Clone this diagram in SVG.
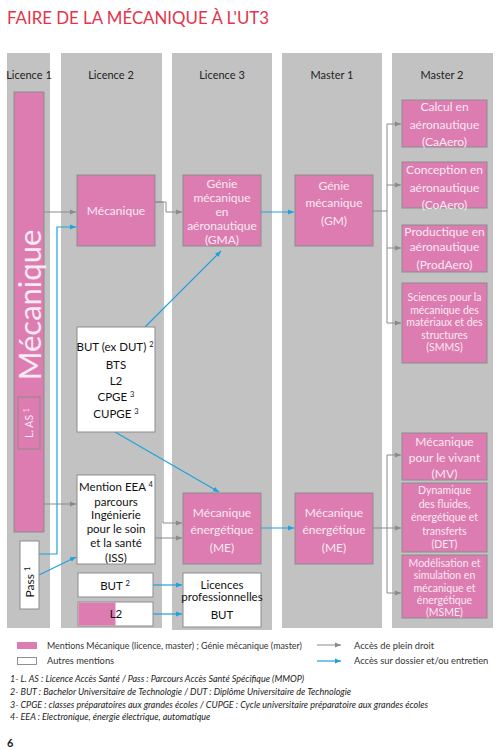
<svg xmlns="http://www.w3.org/2000/svg" width="500" height="750" viewBox="0 0 500 750">
<defs>
<style>
text{font-family:Lato,"Liberation Sans",sans-serif;}
.col{fill:#c2c2c2;}
.pk{fill:#dc7cb0;stroke:#8c8c8c;stroke-width:1;}
.wt{fill:#ffffff;stroke:#8c8c8c;stroke-width:1;}
.hd{font-size:11px;fill:#222;text-anchor:middle;}
.tw{font-size:12px;fill:#fbe9f3;text-anchor:middle;}
.ts{font-size:10.5px;fill:#fbe9f3;text-anchor:middle;}
.tb{font-size:11.5px;fill:#111;text-anchor:middle;}
.gl{fill:none;stroke:#8a8a8a;stroke-width:1;}
.bl{fill:none;stroke:#1ea2dc;stroke-width:1.2;}
.lg{font-size:9.3px;fill:#333;}
.fn{font-size:9px;fill:#222;font-style:italic;}
</style>
<marker id="ag" markerUnits="userSpaceOnUse" markerWidth="7" markerHeight="6" refX="6" refY="3" orient="auto"><path d="M0,0.5 L6,3 L0,5.5 Z" fill="#8a8a8a"/></marker>
<marker id="ab" markerUnits="userSpaceOnUse" markerWidth="7" markerHeight="6" refX="6" refY="3" orient="auto"><path d="M0,0.5 L6,3 L0,5.5 Z" fill="#1ea2dc"/></marker>
</defs>
<rect width="500" height="750" fill="#ffffff"/>
<text x="7" y="24" font-size="16.5" fill="#e3344a" textLength="262" lengthAdjust="spacingAndGlyphs">FAIRE DE LA MÉCANIQUE À L'UT3</text>

<g id="columns">
<rect class="col" x="7" y="53" width="43" height="575"/>
<rect class="col" x="61" y="53" width="101" height="575"/>
<rect class="col" x="172" y="53" width="100" height="577"/>
<rect class="col" x="282" y="53" width="100" height="575"/>
<rect class="col" x="392" y="53" width="101" height="575"/>
<text class="hd" x="29" y="79">Licence 1</text>
<text class="hd" x="111" y="79">Licence 2</text>
<text class="hd" x="222" y="79">Licence 3</text>
<text class="hd" x="332" y="79">Master 1</text>
<text class="hd" x="442" y="79">Master 2</text>
</g>

<g id="connectors">
<path class="gl" d="M44,212 H76" marker-end="url(#ag)"/>
<path class="gl" d="M44,504 H76" marker-end="url(#ag)"/>
<path class="gl" d="M155,202 H166 V212 H182" marker-end="url(#ag)"/>
<path class="gl" d="M155,202 H163 V523 H182" marker-end="url(#ag)"/>
<path class="gl" d="M155,538 H182" marker-end="url(#ag)"/>
<path class="gl" d="M373,211 H387 M387,124 V323"/>
<path class="gl" d="M387,124 H401" marker-end="url(#ag)"/>
<path class="gl" d="M387,185 H401" marker-end="url(#ag)"/>
<path class="gl" d="M387,248 H401" marker-end="url(#ag)"/>
<path class="gl" d="M387,323 H401" marker-end="url(#ag)"/>
<path class="gl" d="M373,528 H387 M387,455 V593"/>
<path class="gl" d="M387,455 H401" marker-end="url(#ag)"/>
<path class="gl" d="M387,528 H401" marker-end="url(#ag)"/>
<path class="gl" d="M387,593 H401" marker-end="url(#ag)"/>
<path class="bl" d="M39,554 H57 V227 H76" marker-end="url(#ab)"/>
<path class="bl" d="M39,575 L76,557" marker-end="url(#ab)"/>
<path class="bl" d="M145,327 L221,251" marker-end="url(#ab)"/>
<path class="bl" d="M115,432 L219,492" marker-end="url(#ab)"/>
<path class="bl" d="M261,212 H294" marker-end="url(#ab)"/>
<path class="bl" d="M261,528 H294" marker-end="url(#ab)"/>
<path class="bl" d="M153,585 H182" marker-end="url(#ab)"/>
<path class="bl" d="M153,614 H182" marker-end="url(#ab)"/>
</g>

<g id="l1-mecanique">
<rect class="pk" x="14" y="92" width="30" height="440"/>
<text transform="translate(41,305) rotate(-90)" font-size="31" fill="#fbe9f3" text-anchor="middle">Mécanique</text>
</g>
<g id="l1-las">
<rect class="pk" x="18" y="397" width="22" height="52"/>
<text transform="translate(33,423) rotate(-90)" font-size="10.5" fill="#fbe9f3" text-anchor="middle">L. AS <tspan font-size="7" dy="-4">1</tspan></text>
</g>
<g id="l1-pass">
<rect class="wt" x="20" y="541" width="19" height="68"/>
<text transform="translate(34,582) rotate(-90)" font-size="12" fill="#111" text-anchor="middle">Pass <tspan font-size="7.5" dy="-4">1</tspan></text>
</g>

<g id="l2-mecanique">
<rect class="pk" x="77" y="175" width="78" height="71"/>
<text class="tw" x="116" y="215">Mécanique</text>
</g>
<g id="l2-but-dut">
<rect class="wt" x="77" y="327" width="78" height="105"/>
<text class="tb" x="115" y="351">BUT (ex DUT) <tspan font-size="7.5" dy="-4">2</tspan></text>
<text class="tb" x="116" y="369">BTS</text>
<text class="tb" x="116" y="385">L2</text>
<text class="tb" x="116" y="401">CPGE <tspan font-size="7.5" dy="-4">3</tspan></text>
<text class="tb" x="116" y="418">CUPGE <tspan font-size="7.5" dy="-4">3</tspan></text>
</g>
<g id="l2-eea">
<rect class="wt" x="77" y="475" width="78" height="89"/>
<text class="tb" x="116" y="491" font-size="11">Mention EEA <tspan font-size="7.5" dy="-4">4</tspan></text>
<text class="tb" x="116" y="506" font-size="11">parcours</text>
<text class="tb" x="116" y="519" font-size="11">Ingénierie</text>
<text class="tb" x="116" y="533" font-size="11">pour le soin</text>
<text class="tb" x="116" y="547" font-size="11">et la santé</text>
<text class="tb" x="116" y="562" font-size="11">(ISS)</text>
</g>
<g id="l2-but">
<rect class="wt" x="78" y="573" width="75" height="24"/>
<text class="tb" x="115" y="590">BUT <tspan font-size="7.5" dy="-4">2</tspan></text>
</g>
<g id="l2-l2">
<rect class="wt" x="78" y="602" width="75" height="24"/>
<rect x="78.5" y="602.5" width="37" height="23" fill="#dc7cb0"/>
<text class="tb" x="116" y="618">L2</text>
</g>

<g id="l3-gma">
<rect class="pk" x="183" y="175" width="78" height="71"/>
<text class="tw" x="222" y="188" font-size="11.5">Génie</text>
<text class="tw" x="222" y="202" font-size="11.5">mécanique</text>
<text class="tw" x="222" y="216" font-size="11.5">en</text>
<text class="tw" x="222" y="230" font-size="11.5">aéronautique</text>
<text class="tw" x="222" y="244" font-size="11.5">(GMA)</text>
</g>
<g id="l3-me">
<rect class="pk" x="183" y="493" width="78" height="71"/>
<text class="tw" x="222" y="517" font-size="13">Mécanique</text>
<text class="tw" x="222" y="534" font-size="13">énergétique</text>
<text class="tw" x="222" y="552" font-size="13">(ME)</text>
</g>
<g id="l3-lp">
<rect class="wt" x="183" y="573" width="78" height="54"/>
<text class="tb" x="222" y="589" font-size="11">Licences</text>
<text class="tb" x="222" y="601" font-size="11">professionnelles</text>
<text class="tb" x="222" y="619" font-size="11">BUT</text>
</g>

<g id="m1-gm">
<rect class="pk" x="295" y="175" width="78" height="71"/>
<text class="tw" x="334" y="190" font-size="13">Génie</text>
<text class="tw" x="334" y="207" font-size="13">mécanique</text>
<text class="tw" x="334" y="225" font-size="13">(GM)</text>
</g>
<g id="m1-me">
<rect class="pk" x="295" y="493" width="78" height="71"/>
<text class="tw" x="334" y="517" font-size="13">Mécanique</text>
<text class="tw" x="334" y="534" font-size="13">énergétique</text>
<text class="tw" x="334" y="552" font-size="13">(ME)</text>
</g>

<g id="m2-caaero">
<rect class="pk" x="402" y="100" width="85" height="47"/>
<text class="tw" x="444.5" y="111">Calcul en</text>
<text class="tw" x="444.5" y="129">aéronautique</text>
<text class="tw" x="444.5" y="146">(CaAero)</text>
</g>
<g id="m2-coaero">
<rect class="pk" x="402" y="162" width="85" height="46"/>
<text class="tw" x="444.5" y="174">Conception en</text>
<text class="tw" x="444.5" y="192">aéronautique</text>
<text class="tw" x="444.5" y="209">(CoAero)</text>
</g>
<g id="m2-prodaero">
<rect class="pk" x="402" y="225" width="85" height="47"/>
<text class="tw" x="444.5" y="236">Productique en</text>
<text class="tw" x="444.5" y="251">aéronautique</text>
<text class="tw" x="444.5" y="269">(ProdAero)</text>
</g>
<g id="m2-smms">
<rect class="pk" x="402" y="283" width="85" height="80"/>
<text class="ts" x="444.5" y="301">Sciences pour la</text>
<text class="ts" x="444.5" y="313.5">mécanique des</text>
<text class="ts" x="444.5" y="326">matériaux et des</text>
<text class="ts" x="444.5" y="338.5">structures</text>
<text class="ts" x="444.5" y="351">(SMMS)</text>
</g>
<g id="m2-mv">
<rect class="pk" x="402" y="433" width="85" height="47"/>
<text class="tw" x="444.5" y="446">Mécanique</text>
<text class="tw" x="444.5" y="462">pour le vivant</text>
<text class="tw" x="444.5" y="478">(MV)</text>
</g>
<g id="m2-det">
<rect class="pk" x="402" y="483" width="85" height="69"/>
<text class="ts" x="444.5" y="494">Dynamique</text>
<text class="ts" x="444.5" y="507.5">des fluides,</text>
<text class="ts" x="444.5" y="521">énergétique et</text>
<text class="ts" x="444.5" y="534.5">transferts</text>
<text class="ts" x="444.5" y="548">(DET)</text>
</g>
<g id="m2-msme">
<rect class="pk" x="402" y="555" width="85" height="63"/>
<text class="ts" x="444.5" y="567">Modélisation et</text>
<text class="ts" x="444.5" y="579">simulation en</text>
<text class="ts" x="444.5" y="591.5">mécanique et</text>
<text class="ts" x="444.5" y="604">énergétique</text>
<text class="ts" x="444.5" y="616">(MSME)</text>
</g>

<g id="legend">
<rect x="17" y="642" width="20" height="7" fill="#dc7cb0"/>
<text class="lg" x="47" y="648.5" textLength="255" lengthAdjust="spacingAndGlyphs">Mentions Mécanique (licence, master) ; Génie mécanique (master)</text>
<rect x="17.5" y="657.5" width="19" height="7" fill="#fff" stroke="#777" stroke-width="0.8"/>
<text class="lg" x="47" y="664">Autres mentions</text>
<path class="gl" d="M317,645 H341" marker-end="url(#ag)"/>
<text class="lg" x="354" y="648.5">Accès de plein droit</text>
<path class="bl" d="M317,661 H341" marker-end="url(#ab)"/>
<text class="lg" x="354" y="664">Accès sur dossier et/ou entretien</text>
</g>

<g id="footnotes">
<text class="fn" x="10" y="682">1- L. AS : Licence Accès Santé / Pass : Parcours Accès Santé Spécifique (MMOP)</text>
<text class="fn" x="10" y="695">2- BUT : Bachelor Universitaire de Technologie / DUT : Diplôme Universitaire de Technologie</text>
<text class="fn" x="10" y="707.5">3- CPGE : classes préparatoires aux grandes écoles / CUPGE : Cycle universitaire préparatoire aux grandes écoles</text>
<text class="fn" x="10" y="720">4- EEA : Electronique, énergie électrique, automatique</text>
<text x="7" y="747" font-size="11" font-family="Liberation Serif,serif" font-weight="bold" fill="#222">6</text>
</g>
</svg>
